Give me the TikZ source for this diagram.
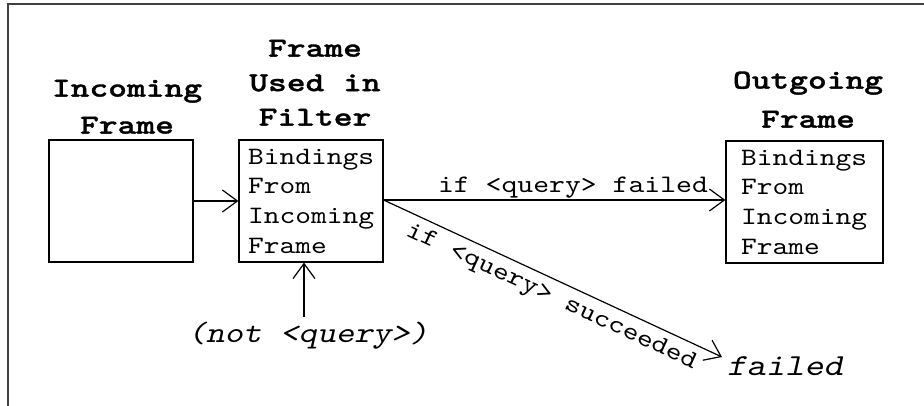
\documentclass[tikz,border=0pt]{standalone}
\usepackage{fontspec}
\newfontfamily\cour{lmmono10-regular.otf}[FakeStretch=1.2,
  ItalicFont=lmmono10-regular.otf, ItalicFeatures={FakeSlant=0.22}]
\newfontfamily\courbf{lmmonolt10-bold.otf}[FakeStretch=1.3, FakeBold=1.2]
\usetikzlibrary{arrows.meta}
\definecolor{framegray}{HTML}{404040}
\begin{document}
\begin{tikzpicture}[x=1pt,y=-1pt,
  every node/.style={inner sep=0pt},
  arr/.style={line width=1.2pt, -{Straight Barb[length=15pt,width=22pt,line width=1.2pt]}},
  framebox/.style={draw, line width=1.2pt, minimum width=#1, minimum height=122pt},
  boxtext/.style={align=left, font=\fontsize{25}{29.7}\selectfont\cour},
  heading/.style={align=center, anchor=south, font=\fontsize{27.5}{#1}\selectfont\courbf},
  remark/.style={font=\fontsize{#1}{36}\selectfont\cour\itshape},
  edgetext/.style={font=\fontsize{25.2}{30}\selectfont\cour}]
\useasboundingbox (0,0) rectangle (924,406);
% outer frame (top and left sides only)
\draw[framegray, line width=2pt] (8,406) -- (8,4) -- (924,4);

% frames
\node[framebox=144pt] (inc) at (121,201) {};
\node[framebox=144pt, boxtext, text width=126pt] (mid) at (311,201) {Bindings\\From\\Incoming\\Frame};
\node[framebox=157pt, boxtext, text width=127pt] (out) at (804.5,202) {Bindings\\From\\Incoming\\Frame};

% headings
\node[heading=37] (tinc) at (127,134) {Incoming\\Frame};
\node[heading=34.5] (tmid) at (315,126) {Frame\\Used in\\Filter};
\node[heading=39] (tout) at (808,128) {Outgoing\\Frame};

% filter pattern and result
\node[remark=29.4, anchor=base] (notq) at (308,342) {(not <query>)};
\node[remark=30.6, anchor=base west] (fail) at (727,375) {failed};
\coordinate (q0) at (304,317);
\coordinate (tipF) at (722,357);

% connectors
\draw[arr] (inc.east) -- (inc.east -| mid.west);
\draw[arr] (q0) -- (q0 |- mid.south);
\draw[arr] (mid.east |- 0,200) -- (out.west |- 0,200)
  node[edgetext, pos=0.554, anchor=base, yshift=7pt] (lblF) {if <query> failed};
\draw[arr] (mid.east |- 0,200) -- (tipF);
\node[edgetext, anchor=base, rotate=-24.85] (lblS) at (549,302) {if <query> succeeded};
\end{tikzpicture}
\end{document}
